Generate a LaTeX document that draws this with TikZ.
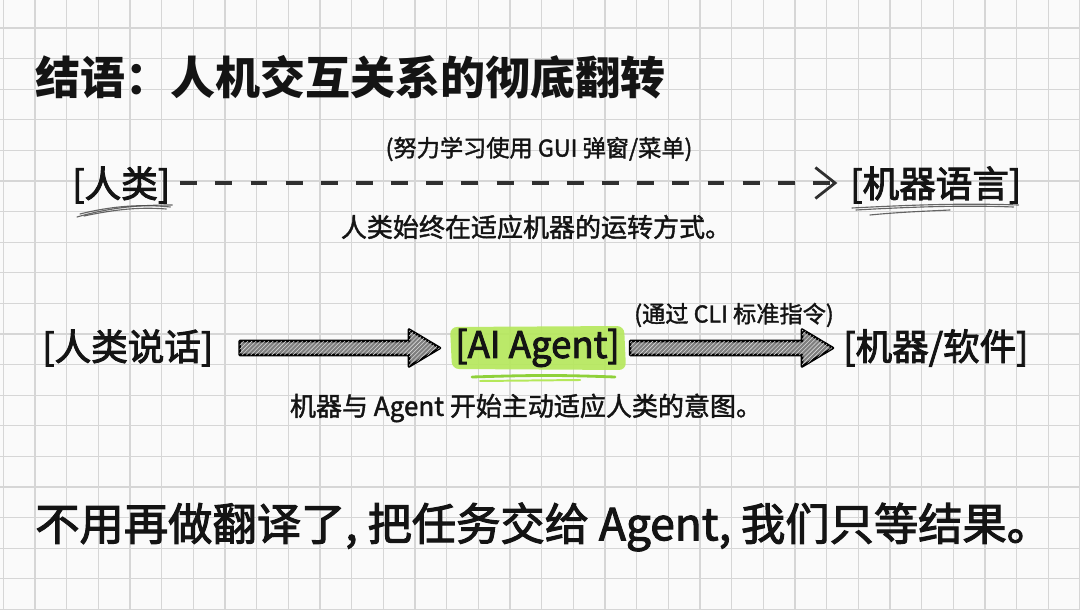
\documentclass[tikz,border=0pt]{standalone}
\usepackage{fontspec}
\setmainfont{Noto Sans CJK SC}
\newfontfamily\medfont{Noto Sans CJK SC}[FakeBold=2.6]
\newfontfamily\semifont{Noto Sans CJK SC}[FakeBold=1.6]
\newfontfamily\handfont{Noto Sans CJK SC}[FakeBold=2.4]
\usetikzlibrary{arrows.meta,calc,patterns}
\definecolor{paper}{HTML}{FAFAFA}
\definecolor{gridc}{HTML}{D6D6D6}
\definecolor{hlc}{HTML}{B5E85A}
\definecolor{hld}{HTML}{8FD13A}
\definecolor{ink}{HTML}{141414}
\definecolor{dashc}{HTML}{303030}
\definecolor{arrowfill}{HTML}{7E7E7E}
\pgfdeclarelayer{bg}
\pgfdeclarelayer{hl}
\pgfsetlayers{bg,hl,main}
\begin{document}
\begin{tikzpicture}[x=0.025cm,y=-0.025cm,
  gridline/.style={draw=gridc, line width=0.9pt},
  lbl/.style={inner sep=0pt, text=ink, font=\medfont\fontsize{26}{30}\selectfont},
  note/.style={inner sep=0pt, text=ink, font=\semifont\fontsize{16.5}{20}\selectfont},
  sub/.style={inner sep=0pt, text=ink, font=\semifont\fontsize{18.5}{22}\selectfont},
  blockarrow/.style={draw=black, line width=1.8pt, line join=round, fill=arrowfill},
  hatch/.style={pattern=north east lines, pattern color=gray!30},
  scrib/.style={draw=gray!60!black, line width=0.8pt, line cap=round, opacity=0.85},
  dasharrow/.style={draw=dashc, line width=2.2pt, dash pattern=on 12pt off 13pt,
    -{Straight Barb[length=14pt,width=22pt,line width=2pt]}}]
\useasboundingbox (0,0) rectangle (1080,610);
\begin{pgfonlayer}{bg}
\fill[paper] (0,0) rectangle (1080,610);
\foreach \i in {0,...,34} \draw[gridline] ({3.3+31.67*\i},0) -- ({3.3+31.67*\i},610);
\foreach \j in {-1,...,19} \draw[gridline] (0,{28+30.6*\j}) -- (1080,{28+30.6*\j});
\end{pgfonlayer}

% title
\node[anchor=west, inner sep=0pt, text=ink, font=\fontsize{32}{36}\selectfont\bfseries] (title) at (35,77) {结语：人机交互关系的彻底翻转};

% row 1
\node[lbl, anchor=west] (human) at (72,185) {[人类]};
\node[lbl, anchor=west] (mlang) at (850,185) {[机器语言]};
\node[note] (gui) at (539,149) {(努力学习使用 GUI 弹窗/菜单)};
\node[sub] (sub1) at (536,227) {人类始终在适应机器的运转方式。};
\draw[dasharrow, shorten <=7pt, shorten >=9pt] ($(human.east)+(0,-2)$) -- ($(mlang.west)+(0,-2)$);
\draw[scrib] ($(human.west)+(5,32)$) .. controls ($(human.west)+(40,22)$) and ($(human.east)+(-30,20)$) .. ($(human.east)+(2,20)$);
\draw[scrib] ($(human.west)+(8,29)$) .. controls ($(human.west)+(40,21)$) and ($(human.east)+(-30,19)$) .. ($(human.east)+(0,22)$);
\draw[scrib] ($(human.west)+(12,31)$) .. controls ($(human.west)+(45,24)$) and ($(human.east)+(-30,22)$) .. ($(human.east)+(-4,24)$);
\draw[scrib] ($(mlang.west)+(2,23)$) .. controls ($(mlang.west)+(60,20)$) and ($(mlang.east)+(-60,18)$) .. ($(mlang.east)+(-3,20)$);
\draw[scrib] ($(mlang.west)+(6,25)$) .. controls ($(mlang.west)+(60,22)$) and ($(mlang.east)+(-60,20)$) .. ($(mlang.east)+(-8,22)$);
\draw[scrib] ($(mlang.west)+(20,30)$) .. controls ($(mlang.west)+(50,27)$) and ($(mlang.west)+(80,26)$) .. ($(mlang.west)+(100,25)$);

% row 2
\node[lbl, anchor=west] (speak) at (42,348) {[人类说话]};
\node[lbl, anchor=west] (agent) at (455,348) {[AI Agent]};
\node[lbl, anchor=west] (soft) at (843,348) {[机器/软件]};
\node[note] (cli) at (734,315) {(通过 CLI 标准指令)};
\node[sub] (sub2) at (526,408) {机器与 Agent 开始主动适应人类的意图。};

\begin{pgfonlayer}{hl}
\fill[hlc, opacity=0.9, rounded corners=5pt] ($(agent.west)+(-5,-21)$) -- ($(agent.east)+(4,-22)$) -- ($(agent.east)+(6,22)$) -- ($(agent.west)+(-3,21)$) -- cycle;
\draw[hld, line width=2pt, line cap=round] ($(agent.west)+(17,29)$) .. controls ($(agent.west)+(80,27)$) and ($(agent.east)+(-60,27)$) .. ($(agent.east)+(-5,29)$);
\draw[hlc, line width=1.4pt, line cap=round] ($(agent.west)+(25,33)$) -- ($(agent.east)+(-40,32)$);
\end{pgfonlayer}

\coordinate (a1s) at ($(speak.east)+(26,0)$);
\coordinate (a1e) at ($(agent.west)+(-15,0)$);
\coordinate (a2s) at ($(agent.east)+(10,0)$);
\coordinate (a2e) at ($(soft.west)+(-10,0)$);
\foreach \s/\e in {a1s/a1e, a2s/a2e}{
  \path[blockarrow] ($(\s)+(0,-7)$) -- ($(\e)+(-31,-7)$) -- ($(\e)+(-31,-18.5)$) -- (\e) -- ($(\e)+(-31,18.5)$) -- ($(\e)+(-31,7)$) -- ($(\s)+(0,7)$) -- cycle;
  \path[hatch] ($(\s)+(0,-7)$) -- ($(\e)+(-31,-7)$) -- ($(\e)+(-31,-18.5)$) -- (\e) -- ($(\e)+(-31,18.5)$) -- ($(\e)+(-31,7)$) -- ($(\s)+(0,7)$) -- cycle;
}

% bottom line
\node[anchor=west, inner sep=0pt, text=ink, font=\handfont\fontsize{31.5}{36}\selectfont] (final) at (35,527) {不用再做翻译了, 把任务交给 Agent, 我们只等结果。};
\end{tikzpicture}
\end{document}
